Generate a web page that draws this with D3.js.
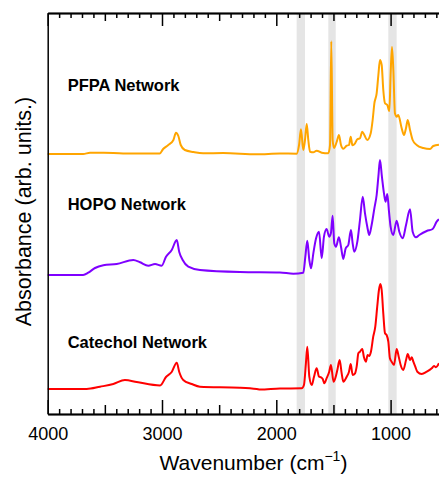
<!DOCTYPE html>
<html>
<head>
<meta charset="utf-8">
<script src="https://cdn.jsdelivr.net/npm/d3@7"></script>
<style>
  body { margin: 0; background: #fff; }
  svg { display: block; font-family: "Liberation Sans", Arial, sans-serif; }
</style>
</head>
<body>
<svg id="vis" width="439" height="478"></svg>
<script>
// wavenumbers (cm-1) and absorbance (arb. units)
const pfpaWn = [4000, 3690, 3630, 3510, 3340, 3020, 2990, 2945, 2900, 2878, 2857, 2836, 2800, 2725, 2640, 2465, 2170, 1970,
	1822, 1801, 1784, 1764, 1749, 1734, 1720, 1705, 1676, 1647, 1603, 1545, 1530, 1519, 1507, 1495, 1472, 1452, 1434, 1414,
	1384, 1364, 1349, 1334, 1311, 1291, 1268, 1248, 1230, 1204, 1174, 1157, 1142, 1122, 1107, 1093, 1078, 1064, 1049, 1029,
	1011, 1000, 988, 976, 962, 947, 933, 903, 883, 865, 850, 830, 807, 772, 714, 655, 626, 577];
const pfpaAbs = [0.010, 0.010, 0.023, 0.023, 0.015, 0.015, 0.060, 0.100, 0.150, 0.223, 0.190, 0.100, 0.050, 0.030, 0.017, 0.020, 0.007, 0.015,
	0.013, 0.100, 0.257, 0.050, 0.150, 0.310, 0.150, 0.033, 0.027, 0.043, 0.023, 0.017, 0.100, 1.137, 0.150, 0.070, 0.130, 0.200, 0.100, 0.063,
	0.093, 0.100, 0.183, 0.097, 0.117, 0.157, 0.167, 0.233, 0.200, 0.150, 0.217, 0.350, 0.517, 0.617, 0.800, 0.950, 0.900, 0.650, 0.517, 0.500,
	0.440, 0.800, 1.080, 0.850, 0.417, 0.383, 0.400, 0.267, 0.200, 0.270, 0.350, 0.250, 0.150, 0.100, 0.070, 0.060, 0.090, 0.103];

const hopoWn = [4000, 3690, 3645, 3586, 3513, 3396, 3251, 3192, 3120, 3061, 3003, 2965, 2915, 2871, 2849, 2819, 2770, 2668, 2318, 1968,
	1851, 1764, 1746, 1729, 1711, 1696, 1676, 1652, 1626, 1603, 1583, 1560, 1537, 1522, 1507, 1493, 1478, 1452, 1434, 1414,
	1393, 1370, 1347, 1332, 1318, 1291, 1268, 1244, 1224, 1204, 1187, 1166, 1142, 1122, 1107, 1093, 1076, 1058, 1044, 1029,
	1014, 1000, 977, 947, 924, 894, 865, 830, 807, 778, 749, 684, 632, 597, 577];
const hopoAbs = [0.000, 0.000, 0.023, 0.070, 0.097, 0.110, 0.150, 0.127, 0.093, 0.110, 0.093, 0.183, 0.250, 0.350, 0.230, 0.150, 0.083, 0.050, 0.030, 0.025,
	0.013, 0.023, 0.183, 0.343, 0.150, 0.067, 0.217, 0.367, 0.433, 0.167, 0.383, 0.460, 0.383, 0.420, 0.593, 0.317, 0.283, 0.377, 0.283, 0.160,
	0.267, 0.300, 0.450, 0.317, 0.233, 0.333, 0.550, 0.783, 0.617, 0.483, 0.400, 0.500, 0.667, 0.800, 0.983, 1.150, 0.983, 0.817, 0.733, 0.810,
	0.633, 0.483, 0.400, 0.543, 0.433, 0.367, 0.500, 0.657, 0.433, 0.377, 0.400, 0.440, 0.460, 0.533, 0.557];

const catWn = [4000, 3659, 3542, 3426, 3324, 3221, 3017, 2965, 2915, 2871, 2849, 2814, 2740, 2668, 2318, 2171, 2141, 1968,
	1778, 1758, 1741, 1729, 1711, 1690, 1670, 1647, 1626, 1609, 1594, 1580, 1560, 1537, 1522, 1499, 1484, 1466, 1446, 1428,
	1414, 1384, 1364, 1349, 1332, 1311, 1297, 1282, 1268, 1248, 1233, 1216, 1201, 1187, 1172, 1152, 1134, 1117, 1102, 1090,
	1078, 1064, 1049, 1035, 1020, 1006, 991, 970, 947, 929, 912, 889, 865, 850, 830, 815, 801, 784, 766, 728, 684, 640,
	620, 603, 577];
const catAbs = [0.000, 0.000, 0.023, 0.050, 0.090, 0.070, 0.035, 0.120, 0.170, 0.263, 0.170, 0.090, 0.050, 0.023, 0.013, 0.000, -0.005, 0.005,
	0.007, 0.040, 0.257, 0.423, 0.123, 0.040, 0.123, 0.207, 0.123, 0.117, 0.100, 0.057, 0.107, 0.173, 0.240, 0.073, 0.107, 0.190, 0.290, 0.157,
	0.073, 0.123, 0.173, 0.250, 0.140, 0.157, 0.223, 0.357, 0.373, 0.400, 0.317, 0.273, 0.340, 0.330, 0.373, 0.523, 0.623, 0.823, 0.990, 1.050,
	0.990, 0.757, 0.557, 0.540, 0.473, 0.307, 0.273, 0.240, 0.400, 0.323, 0.240, 0.190, 0.290, 0.350, 0.290, 0.317, 0.273, 0.223, 0.173, 0.150, 0.173, 0.207,
	0.230, 0.217, 0.257];

const names = ["PFPA Network", "HOPO Network", "Catechol Network"];
const colors = ["#ffa500", "#7f00ff", "#ff0000"];
const offsets = [2.59, 1.39, 0.25];
const labelHeights = [0.645, 0.65, 0.41]; // label baseline above each trace's zero line

// highlighted bands (cm-1)
const bands = [[1822, 1749], [1545, 1480], [1020, 947]];

const majorTicks = [4000, 3000, 2000, 1000];
const midTicks = d3.range(3500, 400, -1000);
const minorTicks = d3.range(4000, 400, -100).filter(d => d % 500 !== 0);

const svg = d3.select("svg#vis");
const margin = {left: 47.7, top: 13, bottom: 414};

const x = d3.scaleLinear()
	.domain([4000, 400])
	.range([margin.left, margin.left + 3600 * 0.1143]);

const y = d3.scaleLinear()
	.domain([0, 4.01])
	.range([margin.bottom, margin.top]);

// grey bands first, behind everything
svg.append("g").selectAll("rect")
	.data(bands)
	.enter()
	.append("rect")
	.attr("x", d => x(d[0]))
	.attr("width", d => x(d[1]) - x(d[0]))
	.attr("y", margin.top)
	.attr("height", margin.bottom - margin.top)
	.attr("fill", "#e5e5e5");

const series = [
	{wn: pfpaWn, abs: pfpaAbs},
	{wn: hopoWn, abs: hopoAbs},
	{wn: catWn, abs: catAbs}
];

const line = d3.line()
	.x(d => x(d[0]))
	.y(d => y(d[1]))
	.curve(d3.curveMonotoneX);

series.forEach(function(s, i) {
	const pts = s.wn.map((w, j) => [w, s.abs[j] + offsets[i]]);
	svg.append("path")
		.attr("d", line(pts))
		.attr("fill", "none")
		.attr("stroke", colors[i])
		.attr("stroke-width", 2)
		.attr("stroke-linejoin", "round");

	svg.append("text")
		.attr("x", x(3825))
		.attr("y", y(offsets[i] + labelHeights[i]))
		.attr("font-size", 16.5)
		.attr("font-weight", "bold")
		.text(names[i]);
});

// axes: bottom and top with inward ticks
function drawAxis(axisFn, yPos, vals, len, labels) {
	const a = axisFn(x)
		.tickValues(vals)
		.tickSizeInner(len)
		.tickSizeOuter(0)
		.tickPadding(13)
		.tickFormat(labels ? d3.format("d") : "");
	const g = svg.append("g")
		.attr("transform", translate(0, yPos))
		.call(a);
	g.select(".domain").attr("stroke-width", 1.5);
	g.selectAll(".tick line").attr("stroke-width", 1.5);
	g.selectAll(".tick text")
		.attr("font-size", 18)
		.attr("font-family", "Liberation Sans, Arial, sans-serif")
		.attr("fill", "#000");
	return g;
}

drawAxis(d3.axisBottom, margin.bottom, majorTicks, -14, true);
drawAxis(d3.axisBottom, margin.bottom, midTicks, -9, false);
drawAxis(d3.axisBottom, margin.bottom, minorTicks, -5, false);
drawAxis(d3.axisTop, margin.top, majorTicks, -13, false);
drawAxis(d3.axisTop, margin.top, midTicks, -8, false);
drawAxis(d3.axisTop, margin.top, minorTicks, -5, false);

svg.append("g")
	.attr("transform", translate(margin.left, 0))
	.call(d3.axisLeft(y).tickValues([]).tickSizeOuter(0))
	.select(".domain").attr("stroke-width", 1.5);

// axis titles
const xt = svg.append("text")
	.attr("x", (x.range()[0] + x.range()[1]) / 2)
	.attr("y", 470)
	.attr("text-anchor", "middle")
	.attr("font-size", 21);
xt.append("tspan").text("Wavenumber (cm");
xt.append("tspan").attr("font-size", 14).attr("dy", -9).text("\u22121");
xt.append("tspan").attr("dy", 9).text(")");

svg.append("text")
	.attr("transform", "translate(31," + ((margin.top + margin.bottom) / 2 - 2) + ") rotate(-90)")
	.attr("text-anchor", "middle")
	.attr("font-size", 21.5)
	.text("Absorbance (arb. units.)");

function translate(a, b) {
	return "translate(" + a + "," + b + ")";
}
</script>
</body>
</html>
